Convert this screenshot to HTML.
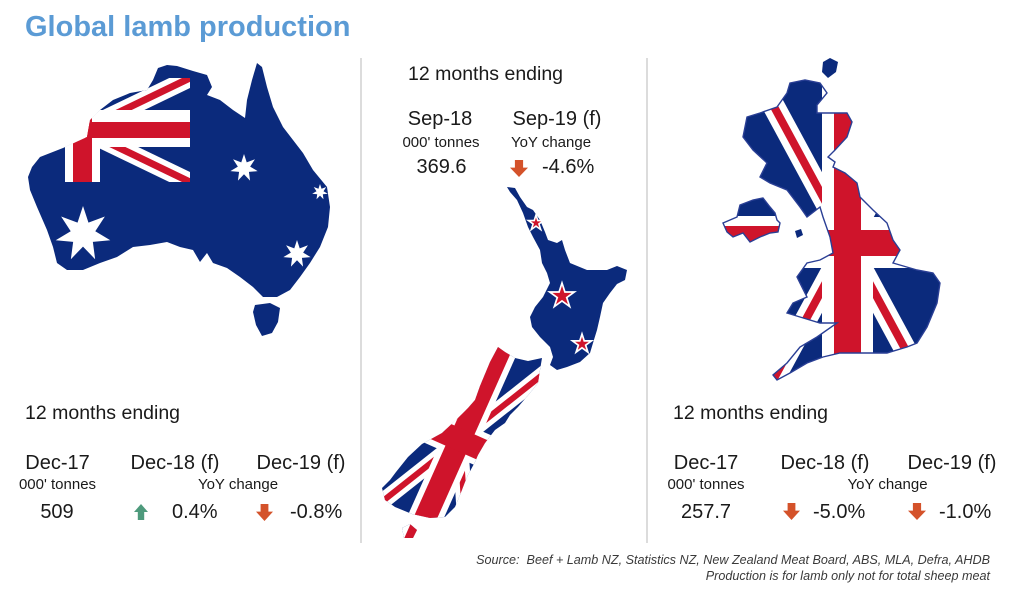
<!DOCTYPE html>
<html>
<head>
<meta charset="utf-8">
<style>
  html, body { margin: 0; padding: 0; background: #ffffff; width: 1024px; height: 590px; overflow: hidden; }
  svg { display: block; }
  text { font-family: "Liberation Sans", Arial, sans-serif; fill: #1a1a1a; }
</style>
</head>
<body>
<svg width="1024" height="590" viewBox="0 0 1024 590" xmlns="http://www.w3.org/2000/svg" overflow="hidden">
  <defs>
    <path id="s7" d="M0,-1 L0.1953,-0.4054 L0.7818,-0.6235 L0.4387,-0.1001 L0.9749,0.2225 L0.3518,0.2806 L0.4339,0.9010 L0,0.45 L-0.4339,0.9010 L-0.3518,0.2806 L-0.9749,0.2225 L-0.4387,-0.1001 L-0.7818,-0.6235 L-0.1953,-0.4054 Z"/>
    <clipPath id="auClip">
      <path d="M32,167 L40,157 L63,148 L87,137 L90,120 L100,110 L113,100 L130,93 L147,90 L153,80 L158,68 L167,65 L177,66 L193,71 L207,75 L212,87 L207,95 L220,100 L233,110 L245,118 L247,100 L252,80 L257,63 L262,67 L267,87 L273,107 L283,127 L293,140 L303,153 L313,170 L327,187 L330,207 L328,227 L320,247 L310,263 L300,277 L290,290 L277,297 L263,297 L253,287 L240,277 L227,268 L213,263 L207,253 L200,262 L193,250 L180,247 L167,242 L150,245 L133,247 L117,257 L100,263 L83,270 L67,270 L57,263 L53,247 L47,230 L37,207 L30,190 L28,177 Z M255,305 L270,303 L280,308 L278,322 L272,333 L262,336 L256,325 L253,312 Z"/>
    </clipPath>
    <clipPath id="auCanton">
      <rect x="65" y="78" width="125" height="104"/>
    </clipPath>
    <clipPath id="nzN">
      <path d="M507,187 L515,188 L520,197 L527,207 L533,210 L540,220 L545,232 L548,240 L557,243 L562,240 L565,250 L570,263 L587,270 L607,270 L617,266 L627,270 L625,280 L617,284 L610,293 L603,303 L600,317 L597,330 L593,343 L590,353 L580,362 L567,367 L557,370 L550,365 L553,357 L550,347 L540,337 L532,327 L530,317 L535,307 L543,297 L550,283 L547,273 L542,263 L540,250 L533,237 L528,227 L523,213 L517,200 L510,192 Z"/>
    </clipPath>
    <clipPath id="nzS">
      <path d="M498,347 L505,352 L515,358 L528,361 L542,358 L540,370 L538,383 L530,393 L518,407 L510,415 L505,423 L495,430 L485,443 L478,455 L475,462 L468,475 L465,482 L460,495 L455,507 L445,517 L430,518 L412,514 L395,507 L385,500 L382,488 L390,480 L396,472 L408,457 L422,444 L442,433 L458,418 L468,408 L475,400 L480,386 L485,374 L490,362 Z M402,528 L410,524 L417,530 L413,538 L404,538 Z"/>
    </clipPath>
    <clipPath id="gbClip">
      <path id="gbPath" d="M790,83 L805,80 L820,83 L827,93 L817,105 L817,113 L835,113 L847,113 L852,122 L847,137 L835,150 L828,157 L835,162 L833,167 L845,173 L857,183 L860,197 L873,210 L887,223 L893,240 L900,250 L893,263 L917,270 L933,273 L940,283 L937,303 L927,327 L917,343 L907,347 L887,353 L860,353 L840,353 L823,357 L807,363 L790,373 L777,380 L773,375 L787,363 L800,347 L817,337 L837,323 L820,323 L800,317 L787,313 L793,303 L807,297 L800,283 L797,277 L807,263 L820,260 L833,253 L830,237 L823,217 L820,207 L807,217 L800,207 L787,190 L770,183 L760,177 L767,163 L753,150 L743,137 L747,117 L760,113 L777,107 L787,93 Z"/>
    </clipPath>
    <clipPath id="niClip">
      <path id="niPath" d="M723,223 L737,217 L740,205 L753,200 L763,198 L770,207 L775,213 L777,220 L780,223 L778,232 L770,233 L760,237 L750,242 L743,233 L733,237 L727,232 Z"/>
    </clipPath>
  </defs>

  <!-- Title -->
  <text x="25" y="36" font-size="29" font-weight="bold" style="fill:#5b9bd5">Global lamb production</text>

  <!-- Dividers -->
  <line x1="361" y1="58" x2="361" y2="543" stroke="#d0d0d0" stroke-width="1.5"/>
  <line x1="647" y1="58" x2="647" y2="543" stroke="#d0d0d0" stroke-width="1.5"/>

  <!-- ===== Australia ===== -->
  <g clip-path="url(#auClip)">
    <rect x="0" y="50" width="350" height="300" fill="#0b2a7c"/>
    <g clip-path="url(#auCanton)">
      <line x1="-26" y1="78" x2="190" y2="182" stroke="#ffffff" stroke-width="18"/>
      <line x1="-26" y1="182" x2="190" y2="78" stroke="#ffffff" stroke-width="18"/>
      <line x1="-26" y1="78" x2="190" y2="182" stroke="#cf142b" stroke-width="7"/>
      <line x1="-26" y1="182" x2="190" y2="78" stroke="#cf142b" stroke-width="7"/>
      <rect x="65" y="78" width="35" height="104" fill="#ffffff"/>
      <rect x="0" y="110" width="190" height="37" fill="#ffffff"/>
      <rect x="73" y="78" width="19" height="104" fill="#cf142b"/>
      <rect x="0" y="122" width="190" height="16" fill="#cf142b"/>
    </g>
    <use href="#s7" transform="translate(83,234) scale(28)" fill="#ffffff"/>
    <use href="#s7" transform="translate(244,168) scale(14)" fill="#ffffff"/>
    <use href="#s7" transform="translate(320,192) scale(8)" fill="#ffffff"/>
    <use href="#s7" transform="translate(297,254) scale(14)" fill="#ffffff"/>
  </g>

  <!-- AU text -->
  <text x="25" y="419" font-size="19.5">12 months ending</text>
  <text x="57.5" y="469" font-size="20" text-anchor="middle">Dec-17</text>
  <text x="175" y="469" font-size="20" text-anchor="middle">Dec-18 (f)</text>
  <text x="301" y="469" font-size="20" text-anchor="middle">Dec-19 (f)</text>
  <text x="57.5" y="489" font-size="15" text-anchor="middle">000' tonnes</text>
  <text x="238" y="489" font-size="15" text-anchor="middle">YoY change</text>
  <text x="57" y="518" font-size="20" text-anchor="middle">509</text>
  <path d="M141,504 L148,512 H144.2 V520 H137.8 V512 H134 Z" fill="#4e9a7c"/>
  <text x="172" y="518" font-size="20">0.4%</text>
  <path d="M260.6,504 H268.4 V511.6 H273 L264.5,521 L256,511.6 H260.6 Z" fill="#d4522a"/>
  <text x="290" y="518" font-size="20">-0.8%</text>

  <!-- ===== New Zealand ===== -->
  <text x="408" y="80" font-size="19.5">12 months ending</text>
  <text x="440" y="125" font-size="20" text-anchor="middle">Sep-18</text>
  <text x="557" y="125" font-size="20" text-anchor="middle">Sep-19 (f)</text>
  <text x="441" y="147" font-size="15" text-anchor="middle">000' tonnes</text>
  <text x="551" y="147" font-size="15" text-anchor="middle">YoY change</text>
  <text x="441.5" y="173" font-size="20" text-anchor="middle">369.6</text>
  <path d="M514.9,160 H523.1 V167.6 H528 L519,177 L510,167.6 H514.9 Z" fill="#d4522a"/>
  <text x="542" y="173" font-size="20">-4.6%</text>

  <g clip-path="url(#nzN)">
    <rect x="480" y="170" width="170" height="220" fill="#0b2a7c"/>
  </g>
  <g fill="#cf142b" stroke="#ffffff" stroke-linejoin="miter">
    <path transform="translate(536,223) scale(8)" stroke-width="0.2" d="M0,-1 L0.2245,-0.309 L0.9511,-0.309 L0.3633,0.118 L0.5878,0.809 L0,0.382 L-0.5878,0.809 L-0.3633,0.118 L-0.9511,-0.309 L-0.2245,-0.309 Z"/>
    <path transform="translate(562,296) scale(13)" stroke-width="0.13" d="M0,-1 L0.2245,-0.309 L0.9511,-0.309 L0.3633,0.118 L0.5878,0.809 L0,0.382 L-0.5878,0.809 L-0.3633,0.118 L-0.9511,-0.309 L-0.2245,-0.309 Z"/>
    <path transform="translate(582,344) scale(10)" stroke-width="0.17" d="M0,-1 L0.2245,-0.309 L0.9511,-0.309 L0.3633,0.118 L0.5878,0.809 L0,0.382 L-0.5878,0.809 L-0.3633,0.118 L-0.9511,-0.309 L-0.2245,-0.309 Z"/>
  </g>

  <g clip-path="url(#nzS)">
    <rect x="370" y="335" width="180" height="210" fill="#0b2a7c"/>
    <g transform="rotate(24 460 440)">
      <line x1="405" y1="335" x2="515" y2="545" stroke="#ffffff" stroke-width="16"/>
      <line x1="405" y1="545" x2="515" y2="335" stroke="#ffffff" stroke-width="16"/>
      <line x1="405" y1="335" x2="515" y2="545" stroke="#cf142b" stroke-width="6"/>
      <line x1="405" y1="545" x2="515" y2="335" stroke="#cf142b" stroke-width="6"/>
      <rect x="443" y="320" width="34" height="240" fill="#ffffff"/>
      <rect x="340" y="423" width="240" height="34" fill="#ffffff"/>
      <rect x="449" y="320" width="22" height="240" fill="#cf142b"/>
      <rect x="340" y="429" width="240" height="22" fill="#cf142b"/>
    </g>
  </g>

  <!-- ===== United Kingdom ===== -->
  <g clip-path="url(#gbClip)">
    <rect x="700" y="50" width="260" height="350" fill="#0b2a7c"/>
    <line x1="765" y1="90" x2="930" y2="395" stroke="#ffffff" stroke-width="22"/>
    <line x1="765" y1="395" x2="930" y2="90" stroke="#ffffff" stroke-width="22"/>
    <line x1="765" y1="90" x2="930" y2="395" stroke="#cf142b" stroke-width="8"/>
    <line x1="765" y1="395" x2="930" y2="90" stroke="#cf142b" stroke-width="8"/>
    <rect x="822" y="50" width="51" height="350" fill="#ffffff"/>
    <rect x="700" y="217" width="260" height="51" fill="#ffffff"/>
    <rect x="834" y="50" width="27" height="350" fill="#cf142b"/>
    <rect x="700" y="230" width="260" height="26" fill="#cf142b"/>
  </g>
  <use href="#gbPath" fill="none" stroke="#2a3f95" stroke-width="1.4"/>
  <g clip-path="url(#niClip)">
    <rect x="715" y="190" width="70" height="60" fill="#0b2a7c"/>
    <rect x="715" y="216" width="70" height="10" fill="#ffffff"/>
    <rect x="715" y="226" width="70" height="24" fill="#cf142b"/>
  </g>
  <use href="#niPath" fill="none" stroke="#2a3f95" stroke-width="1.4"/>
  <path d="M795,231 L801,229 L803,235 L797,238 Z" fill="#0b2a7c"/>
  <path d="M823,62 L830,58 L838,62 L836,72 L828,78 L822,72 Z" fill="#0b2a7c"/>

  <!-- UK text -->
  <text x="673" y="419" font-size="19.5">12 months ending</text>
  <text x="706" y="469" font-size="20" text-anchor="middle">Dec-17</text>
  <text x="825" y="469" font-size="20" text-anchor="middle">Dec-18 (f)</text>
  <text x="952" y="469" font-size="20" text-anchor="middle">Dec-19 (f)</text>
  <text x="706" y="489" font-size="15" text-anchor="middle">000' tonnes</text>
  <text x="887.5" y="489" font-size="15" text-anchor="middle">YoY change</text>
  <text x="706" y="518" font-size="20" text-anchor="middle">257.7</text>
  <path d="M787.6,503 H795.4 V510.6 H800 L791.5,520 L783,510.6 H787.6 Z" fill="#d4522a"/>
  <text x="813" y="518" font-size="20">-5.0%</text>
  <path d="M912.9,503 H921.1 V510.6 H926 L917,520 L908,510.6 H912.9 Z" fill="#d4522a"/>
  <text x="939" y="518" font-size="20">-1.0%</text>

  <!-- Source -->
  <text x="990" y="564" font-size="12.6" font-style="italic" text-anchor="end" style="fill:#3a3a3a" xml:space="preserve">Source:  Beef + Lamb NZ, Statistics NZ, New Zealand Meat Board, ABS, MLA, Defra, AHDB</text>
  <text x="990" y="580" font-size="12.6" font-style="italic" text-anchor="end" style="fill:#3a3a3a">Production is for lamb only not for total sheep meat</text>
</svg>
</body>
</html>
